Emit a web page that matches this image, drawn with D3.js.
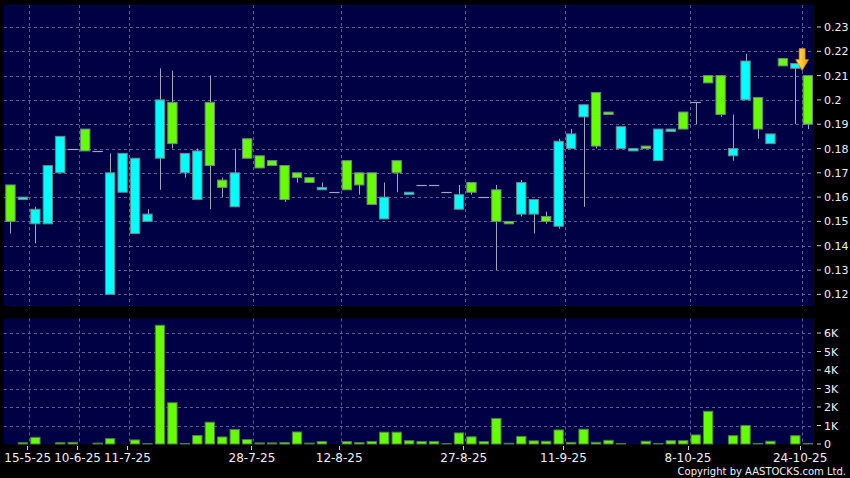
<html>
<head>
<script src="https://d3js.org/d3.v7.min.js"></script>
<style>
body { margin: 0; background: black; }
text { font-family: "DejaVu Sans", sans-serif; fill: #f0f0f0; }
</style>
</head>
<body>
<svg id="chart" width="850" height="478"></svg>
<script>
// daily candles, one slot per trading day shown
var opens  = [0.165,0.159,0.149,0.149,0.170,0.180,0.188,0.179,0.120,0.162,0.145,0.150,0.176,0.199,0.170,0.159,0.199,0.167,0.156,0.184,0.177,0.175,0.173,0.170,0.168,0.163,0.162,0.175,0.170,0.170,0.151,0.175,0.161,0.165,0.165,0.162,0.155,0.166,0.160,0.163,0.150,0.153,0.153,0.152,0.148,0.180,0.193,0.203,0.195,0.180,0.179,0.181,0.175,0.187,0.195,0.199,0.210,0.210,0.177,0.200,0.201,0.182,0.217,0.213,0.210];
var highs  = [0.165,0.160,0.156,0.173,0.185,0.180,0.188,0.179,0.178,0.178,0.176,0.155,0.213,0.212,0.178,0.180,0.210,0.168,0.180,0.184,0.177,0.175,0.173,0.170,0.168,0.166,0.162,0.175,0.170,0.170,0.166,0.175,0.162,0.165,0.165,0.162,0.165,0.166,0.160,0.165,0.150,0.167,0.159,0.154,0.184,0.188,0.198,0.203,0.195,0.189,0.180,0.181,0.188,0.188,0.195,0.199,0.210,0.210,0.194,0.219,0.201,0.186,0.217,0.215,0.210];
var lows   = [0.145,0.159,0.141,0.149,0.170,0.180,0.179,0.179,0.120,0.162,0.145,0.150,0.163,0.180,0.168,0.159,0.155,0.160,0.156,0.176,0.172,0.173,0.158,0.166,0.166,0.163,0.162,0.163,0.161,0.157,0.151,0.162,0.161,0.165,0.165,0.162,0.155,0.161,0.160,0.130,0.149,0.152,0.145,0.149,0.147,0.180,0.156,0.180,0.194,0.180,0.179,0.180,0.175,0.187,0.188,0.190,0.207,0.193,0.175,0.200,0.184,0.182,0.214,0.190,0.188];
var closes = [0.150,0.160,0.155,0.173,0.185,0.180,0.179,0.179,0.170,0.178,0.176,0.153,0.200,0.182,0.178,0.179,0.173,0.164,0.170,0.176,0.172,0.173,0.159,0.168,0.166,0.164,0.162,0.163,0.165,0.157,0.160,0.170,0.162,0.165,0.165,0.162,0.161,0.162,0.160,0.150,0.149,0.166,0.159,0.150,0.183,0.186,0.198,0.181,0.194,0.189,0.180,0.180,0.188,0.188,0.188,0.199,0.207,0.194,0.180,0.216,0.188,0.186,0.214,0.215,0.190];
// volume in shares
var volumes = [0,70,360,0,70,90,0,50,290,0,220,20,6420,2230,30,460,1180,380,790,240,60,60,80,650,50,130,0,130,80,140,640,640,180,140,140,20,600,390,130,1380,40,410,170,150,760,90,800,90,200,20,0,150,30,180,180,490,1770,0,450,1000,30,150,0,450,30];

var dateTickIdx = [2,6,10,20,27,37,45,55,64];
var dateTickLabels = ["15-5-25","10-6-25","11-7-25","28-7-25","12-8-25","27-8-25","11-9-25","8-10-25","24-10-25"];
var priceTicks = [0.12,0.13,0.14,0.15,0.16,0.17,0.18,0.19,0.20,0.21,0.22,0.23];
var priceTickLabels = ["0.12","0.13","0.14","0.15","0.16","0.17","0.18","0.19","0.2","0.21","0.22","0.23"];
var volTicks = [0,1000,2000,3000,4000,5000,6000];
var volTickLabels = ["0","1K","2K","3K","4K","5K","6K"];

var GREEN = "#66ff00", CYAN = "#00ffff", NAVY = "#000044";
var svg = d3.select("#chart");
svg.append("rect").attr("width", 850).attr("height", 478).attr("fill", "black");

var left = 4, right = 814;
var pTop = 5, pBot = 306, vTop = 318.5, vBot = 444;

var x = d3.scaleBand().domain(d3.range(opens.length)).range([4.3, right])
  .paddingInner(0.17).paddingOuter(0.08);
var y = d3.scaleLinear().domain([0.12, 0.23]).range([294.3, 27]);
var yv = d3.scaleLinear().domain([0, 6000]).range([vBot, 333]);
var bw = x.bandwidth();
var gx = function(i) { return x(i) - 1; };

// panels
svg.append("rect").attr("x", left).attr("y", pTop).attr("width", right - left).attr("height", pBot - pTop).attr("fill", NAVY);
svg.append("rect").attr("x", left).attr("y", vTop).attr("width", right - left).attr("height", vBot - vTop).attr("fill", NAVY);

var grid = svg.append("g").attr("stroke", "#5c5c96").attr("stroke-width", 1).attr("stroke-dasharray", "3,3");
grid.selectAll(".hp").data(priceTicks).enter().append("line")
  .attr("x1", left).attr("x2", right)
  .attr("y1", function(d) { return Math.round(y(d)) + 0.5; })
  .attr("y2", function(d) { return Math.round(y(d)) + 0.5; });
grid.selectAll(".hv").data(volTicks.slice(1)).enter().append("line")
  .attr("x1", left).attr("x2", right)
  .attr("y1", function(d) { return Math.round(yv(d)) + 0.5; })
  .attr("y2", function(d) { return Math.round(yv(d)) + 0.5; });
grid.selectAll(".vp").data(dateTickIdx).enter().append("line")
  .attr("x1", function(d) { return Math.round(gx(d)) + 0.5; })
  .attr("x2", function(d) { return Math.round(gx(d)) + 0.5; })
  .attr("y1", pTop).attr("y2", pBot);
grid.selectAll(".vv").data(dateTickIdx).enter().append("line")
  .attr("x1", function(d) { return Math.round(gx(d)) + 0.5; })
  .attr("x2", function(d) { return Math.round(gx(d)) + 0.5; })
  .attr("y1", vTop).attr("y2", vBot);

// candles
var idx = d3.range(opens.length);
var c = svg.append("g");
c.selectAll(".wick").data(idx).enter().append("line")
  .attr("x1", function(i) { return Math.round(x(i) + bw / 2) + 0.5; })
  .attr("x2", function(i) { return Math.round(x(i) + bw / 2) + 0.5; })
  .attr("y1", function(i) { return y(highs[i]); })
  .attr("y2", function(i) { return y(lows[i]); })
  .attr("stroke", "#a4a4bc").attr("stroke-width", 1);

c.selectAll(".body").data(idx.filter(function(i) { return opens[i] != closes[i]; })).enter().append("rect")
  .attr("x", function(i) { return x(i) + 0.5; })
  .attr("width", bw - 1)
  .attr("y", function(i) { return y(Math.max(opens[i], closes[i])); })
  .attr("height", function(i) { return Math.abs(y(opens[i]) - y(closes[i])); })
  .attr("fill", function(i) { return closes[i] > opens[i] ? CYAN : GREEN; })
  .attr("stroke", "#6f8488").attr("stroke-width", 1);

c.selectAll(".doji").data(idx.filter(function(i) { return opens[i] == closes[i]; })).enter().append("line")
  .attr("x1", function(i) { return x(i); })
  .attr("x2", function(i) { return x(i) + bw; })
  .attr("y1", function(i) { return Math.round(y(closes[i])) + 0.5; })
  .attr("y2", function(i) { return Math.round(y(closes[i])) + 0.5; })
  .attr("stroke", "#a4a4bc").attr("stroke-width", 1.2);

// volume
svg.append("g").selectAll("rect").data(idx.filter(function(i) { return volumes[i] > 0; })).enter().append("rect")
  .attr("x", function(i) { return x(i) + 0.5; })
  .attr("width", bw - 1)
  .attr("y", function(i) { return yv(volumes[i]); })
  .attr("height", function(i) { return yv(0) - yv(volumes[i]); })
  .attr("fill", GREEN).attr("stroke", "#4f7a45").attr("stroke-width", 1);

// last-day marker
var ax = gx(opens.length - 1) + 0.5, tip = y(highs[opens.length - 1]) - 5;
var grad = svg.append("defs").append("linearGradient").attr("id", "arr").attr("x1", 0).attr("x2", 1).attr("y1", 0).attr("y2", 0);
grad.append("stop").attr("offset", "0%").attr("stop-color", "#ffe860");
grad.append("stop").attr("offset", "100%").attr("stop-color", "#f0a000");
svg.append("path")
  .attr("d", "M" + (ax - 3) + "," + (tip - 22) + "h6v11h3.5l-6.5,11l-6.5,-11h3.5z")
  .attr("fill", "url(#arr)").attr("stroke", "#d08a00").attr("stroke-width", 0.6);

// right axes
var ax1 = svg.append("g");
ax1.selectAll("line").data(priceTicks).enter().append("line")
  .attr("x1", 817).attr("x2", 821)
  .attr("y1", function(d) { return y(d); }).attr("y2", function(d) { return y(d); })
  .attr("stroke", "#cccccc");
ax1.selectAll("text").data(priceTicks).enter().append("text")
  .attr("x", 824).attr("y", function(d) { return y(d) + 4; })
  .style("font-size", "11px")
  .text(function(d, i) { return priceTickLabels[i]; });

var ax2 = svg.append("g");
ax2.selectAll("line").data(volTicks).enter().append("line")
  .attr("x1", 817).attr("x2", 821)
  .attr("y1", function(d) { return yv(d); }).attr("y2", function(d) { return yv(d); })
  .attr("stroke", "#cccccc");
ax2.selectAll("text").data(volTicks).enter().append("text")
  .attr("x", 824).attr("y", function(d) { return yv(d) + 4; })
  .style("font-size", "11px")
  .text(function(d, i) { return volTickLabels[i]; });

// date axis
var ax3 = svg.append("g");
ax3.selectAll("line").data(dateTickIdx).enter().append("line")
  .attr("x1", function(d) { return Math.round(gx(d)) - 1.5; })
  .attr("x2", function(d) { return Math.round(gx(d)) - 1.5; })
  .attr("y1", 446).attr("y2", 450).attr("stroke", "#cccccc");
ax3.selectAll("text").data(dateTickIdx).enter().append("text")
  .attr("x", function(d) { return gx(d) - 1.5; }).attr("y", 462)
  .attr("text-anchor", "middle")
  .style("font-size", "12px")
  .text(function(d, i) { return dateTickLabels[i]; });

svg.append("text").attr("x", 846).attr("y", 475).attr("text-anchor", "end")
  .style("font-size", "10px").text("Copyright by AASTOCKS.com Ltd.");
</script>
</body>
</html>
